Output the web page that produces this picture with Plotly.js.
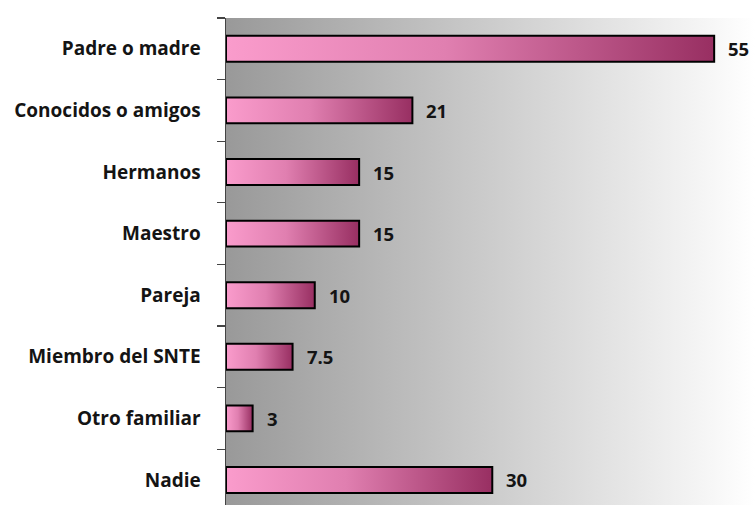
<!DOCTYPE html>
<html>
<head>
<meta charset="utf-8">
<script src="https://cdn.plot.ly/plotly-3.0.1.min.js"></script>
<style>
  html, body { margin: 0; padding: 0; background: #fff; }
  #chart { width: 755px; height: 505px; }
</style>
</head>
<body>
<div id="chart"></div>
<script>
const categories = ["Padre o madre", "Conocidos o amigos", "Hermanos", "Maestro", "Pareja", "Miembro del SNTE", "Otro familiar", "Nadie"];
const values = [55, 21, 15, 15, 10, 7.5, 3, 30];
const valueLabels = ["55", "21", "15", "15", "10", "7.5", "3", "30"];

const labelFont = { family: "Open Sans, DejaVu Sans, sans-serif", size: 19, color: "#141414", weight: "bold" };
const valueFont = { family: "Open Sans, DejaVu Sans, sans-serif", size: 18.5, color: "#141414", weight: "bold" };

const trace = {
  type: "bar",
  orientation: "h",
  x: values,
  y: categories,
  width: 0.42,
  marker: { color: "#d9679f", line: { color: "#000000", width: 2 } },
  hoverinfo: "none"
};

const annotations = categories.map((c, i) => ({
  x: values[i], y: c, xref: "x", yref: "y",
  text: valueLabels[i], showarrow: false,
  xanchor: "left", yanchor: "middle", xshift: 12,
  font: valueFont
}));

const layout = {
  width: 755, height: 505,
  margin: { l: 226, r: 0, t: 18, b: 0, pad: 0 },
  paper_bgcolor: "#ffffff",
  plot_bgcolor: "#bbbbbb",
  showlegend: false,
  xaxis: { range: [0, 59.6], visible: false, showgrid: false, zeroline: false, fixedrange: true },
  yaxis: {
    type: "category",
    range: [7.406, -0.5],
    showline: true, linecolor: "#444444", linewidth: 1.5,
    ticks: "outside", ticklen: 8, tickwidth: 1.3, tickcolor: "#444444",
    tickson: "boundaries",
    ticklabelstandoff: 20,
    tickfont: labelFont,
    showgrid: false, zeroline: false, fixedrange: true
  },
  annotations: annotations
};

Plotly.newPlot("chart", [trace], layout, { staticPlot: true, displayModeBar: false }).then(gd => {
  const svgNS = "http://www.w3.org/2000/svg";
  const svg = gd.querySelector("svg.main-svg");
  const defs = document.createElementNS(svgNS, "defs");
  function grad(id, stops) {
    const g = document.createElementNS(svgNS, "linearGradient");
    g.setAttribute("id", id);
    g.setAttribute("x1", "0"); g.setAttribute("y1", "0");
    g.setAttribute("x2", "1"); g.setAttribute("y2", "0");
    stops.forEach(([o, c]) => {
      const s = document.createElementNS(svgNS, "stop");
      s.setAttribute("offset", o);
      s.setAttribute("stop-color", c);
      g.appendChild(s);
    });
    defs.appendChild(g);
  }
  grad("bgGrad", [["0", "#999999"], ["1", "#ffffff"]]);
  grad("barGrad", [["0", "#fa9ccc"], ["0.45", "#e07fb0"], ["1", "#982f62"]]);
  svg.insertBefore(defs, svg.firstChild);
  gd.querySelectorAll("rect.bg").forEach(r => { r.style.fill = "url(#bgGrad)"; });
  gd.querySelectorAll(".barlayer .point path").forEach(p => { p.style.fill = "url(#barGrad)"; });
});
</script>
</body>
</html>
